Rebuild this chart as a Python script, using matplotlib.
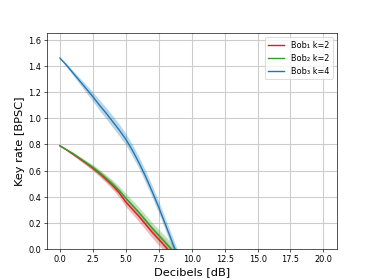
import matplotlib
matplotlib.use("Agg")
import matplotlib.pyplot as plt
import numpy as np

decibels = [0, 0.5, 1, 1.5, 2, 2.5, 3, 3.5, 4, 4.5, 5, 5.5, 6, 6.5, 7, 7.5, 8, 8.5, 9, 9.5, 10]

bob1_k2 = [0.79, 0.758, 0.725, 0.69, 0.655, 0.618, 0.578, 0.533, 0.486, 0.43, 0.36,
           0.305, 0.25, 0.19, 0.13, 0.075, 0.02, -0.04, -0.10, -0.17, -0.24]
bob1_err = [0.003, 0.006, 0.01, 0.013, 0.016, 0.02, 0.023, 0.026, 0.03, 0.033, 0.036,
            0.038, 0.04, 0.042, 0.044, 0.046, 0.048, 0.05, 0.05, 0.05, 0.05]

bob2_k2 = [0.79, 0.76, 0.73, 0.695, 0.66, 0.625, 0.585, 0.542, 0.497, 0.447, 0.39,
           0.335, 0.28, 0.22, 0.16, 0.105, 0.05, -0.005, -0.065, -0.13, -0.20]
bob2_err = [0.003, 0.006, 0.01, 0.013, 0.016, 0.02, 0.023, 0.026, 0.03, 0.033, 0.036,
            0.038, 0.04, 0.042, 0.044, 0.046, 0.048, 0.05, 0.05, 0.05, 0.05]

bob3_k4 = [1.46, 1.405, 1.345, 1.285, 1.225, 1.165, 1.10, 1.04, 0.975, 0.91, 0.84,
           0.755, 0.66, 0.555, 0.44, 0.32, 0.19, 0.06, -0.07, -0.20, -0.33]
bob3_err = [0.004, 0.012, 0.018, 0.024, 0.03, 0.035, 0.04, 0.043, 0.045, 0.045, 0.045,
            0.045, 0.045, 0.045, 0.045, 0.045, 0.045, 0.045, 0.045, 0.045, 0.045]

labels = ["Bob\u2081 k=2", "Bob\u2082 k=2", "Bob\u2083 k=4"]
colors = ["#e41a1c", "#2ca02c", "#1f77b4"]

fig, ax = plt.subplots(figsize=(6.4, 4.8), dpi=58.44)
x = np.array(decibels)
for y, e, lab, c in zip([bob1_k2, bob2_k2, bob3_k4], [bob1_err, bob2_err, bob3_err], labels, colors):
    y = np.array(y); e = np.array(e)
    ax.fill_between(x, y - e, y + e, color=c, alpha=0.3, linewidth=0)
    ax.plot(x, y, color=c, linewidth=1.7, label=lab)

ax.set_xlim(-1, 21)
ax.set_ylim(0, 1.65)
ax.set_xticks(np.arange(0, 20.1, 2.5))
ax.set_yticks(np.arange(0, 1.61, 0.2))
ax.grid(True, color="#cccccc", linewidth=1.3)
ax.set_axisbelow(True)
ax.set_xlabel("Decibels [dB]", fontsize=14)
ax.set_ylabel("Key rate [BPSC]", fontsize=14)
ax.tick_params(labelsize=10)
ax.legend(loc="upper right", fontsize=10)
fig.savefig("out.png", dpi=58.44)
